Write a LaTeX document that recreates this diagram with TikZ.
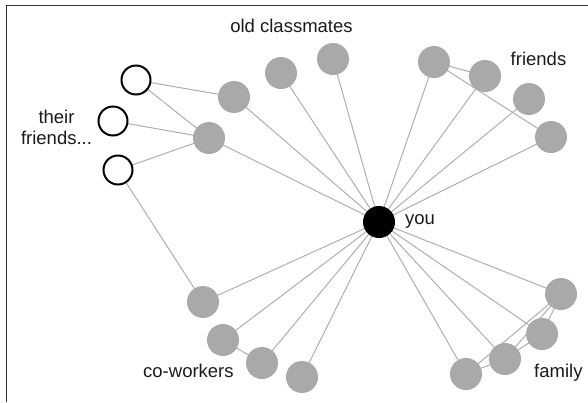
\documentclass[tikz,border=0pt]{standalone}
\usepackage{fontspec}
\setmainfont{Liberation Sans}
\usetikzlibrary{backgrounds}
\definecolor{nodegray}{HTML}{A8A9AB}
\definecolor{edgegray}{HTML}{AEAEAE}
\definecolor{framegray}{HTML}{333333}
\definecolor{txt}{HTML}{1A1A1A}
\tikzset{
  person/.style={circle, fill=nodegray, draw=none, minimum size=32pt, inner sep=0pt},
  other/.style={circle, fill=white, draw=black, line width=2pt, minimum size=29pt, inner sep=0pt},
  me/.style={circle, fill=black, draw=none, minimum size=32pt, inner sep=0pt},
  link/.style={draw=edgegray, line width=1pt},
  lbl/.style={text=txt, inner sep=0pt, font=\fontsize{18.5}{21}\selectfont},
}
\begin{document}
\begin{tikzpicture}[x=1pt,y=-1pt]
\useasboundingbox (0,0) rectangle (588,402);
\draw[framegray, line width=1.5pt] (6.5,402) -- (6.5,5.5) -- (588,5.5);
% their friends
\node[other] (w1) at (136,80) {};
\node[other] (w2) at (113,121) {};
\node[other] (w3) at (118,170) {};
% old classmates
\node[person] (g1) at (234,97) {};
\node[person] (g2) at (209,138) {};
\node[person] (g3) at (281,73) {};
\node[person] (g4) at (333,59) {};
% friends
\node[person] (f1) at (434,62) {};
\node[person] (f2) at (485,76) {};
\node[person] (f3) at (529,99) {};
\node[person] (f4) at (551,137) {};
% you
\node[me] (you) at (379,222) {};
% co-workers
\node[person] (c1) at (203,302) {};
\node[person] (c2) at (223,340) {};
\node[person] (c3) at (262,363) {};
\node[person] (c4) at (302,377) {};
% family
\node[person] (fa1) at (561,294) {};
\node[person] (fa2) at (542,334) {};
\node[person] (fa3) at (505,359) {};
\node[person] (fa4) at (466,374) {};
% labels
\node[lbl, anchor=base] (lold) at (291.5,32) {old classmates};
\node[lbl, anchor=base] (lfr) at (538.5,65) {friends};
\node[lbl, anchor=base, align=center] (lth) at (56.5,144) {their\\friends...};
\node[lbl, anchor=base west] (lyou) at (405,224) {you};
\node[lbl, anchor=base west] (lco) at (143,377) {co-workers};
\node[lbl, anchor=base west] (lfam) at (534,377) {family};
\begin{pgfonlayer}{background}
\foreach \a/\b in {w1/g1, w1/g2, w2/g2, w3/g2, w3/c1,
  g1/you, g2/you, g3/you, g4/you,
  f1/you, f2/you, f3/you, f4/you, f1/f2, f1/f4,
  c1/you, c2/you, c3/you, c4/you, c2/c3,
  fa1/you, fa2/you, fa3/you, fa4/you,
  fa4/fa3, fa3/fa2, fa2/fa1, fa4/fa1, fa3/fa1}
  \draw[link] (\a.center) -- (\b.center);
\end{pgfonlayer}
\end{tikzpicture}
\end{document}
